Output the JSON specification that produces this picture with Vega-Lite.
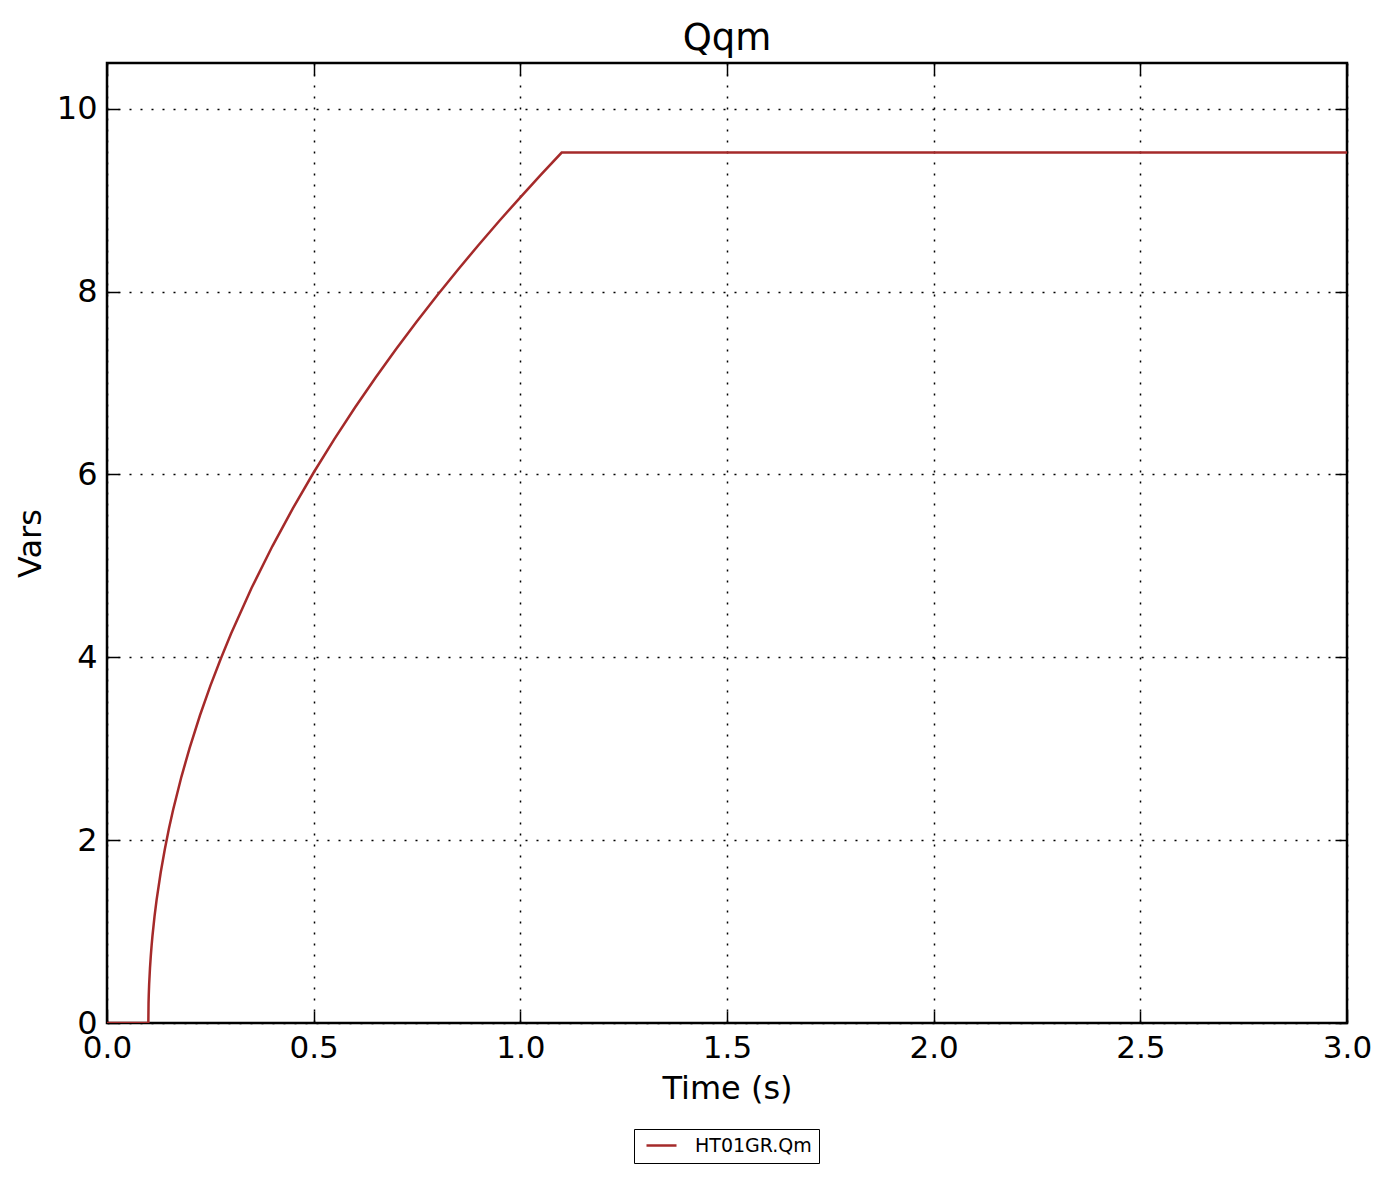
{
  "$schema": "https://vega.github.io/schema/vega-lite/v6.json",
  "width": 1240,
  "height": 960,
  "autosize": {"type": "none"},
  "padding": {"left": 107, "top": 63, "right": 43, "bottom": 159},
  "background": "white",
  "title": {"text": "Qqm", "fontSize": 37, "font": "DejaVu Sans", "fontWeight": "normal", "color": "black", "offset": 4, "anchor": "middle"},
  "config": {
    "font": "DejaVu Sans",
    "view": {"stroke": "black", "strokeWidth": 2.5},
    "axis": {"labelFont": "DejaVu Sans", "titleFont": "DejaVu Sans", "labelColor": "black", "titleColor": "black", "titleFontWeight": "normal"}
  },
  "data": {"values": [
    {"t": 0.0, "q": 0.0, "series": "HT01GR.Qm"},
    {"t": 0.1, "q": 0.0, "series": "HT01GR.Qm"},
    {"t": 0.1005, "q": 0.213, "series": "HT01GR.Qm"},
    {"t": 0.101, "q": 0.301, "series": "HT01GR.Qm"},
    {"t": 0.102, "q": 0.426, "series": "HT01GR.Qm"},
    {"t": 0.104, "q": 0.602, "series": "HT01GR.Qm"},
    {"t": 0.106, "q": 0.737, "series": "HT01GR.Qm"},
    {"t": 0.108, "q": 0.851, "series": "HT01GR.Qm"},
    {"t": 0.11, "q": 0.952, "series": "HT01GR.Qm"},
    {"t": 0.115, "q": 1.166, "series": "HT01GR.Qm"},
    {"t": 0.12, "q": 1.346, "series": "HT01GR.Qm"},
    {"t": 0.13, "q": 1.649, "series": "HT01GR.Qm"},
    {"t": 0.14, "q": 1.904, "series": "HT01GR.Qm"},
    {"t": 0.15, "q": 2.129, "series": "HT01GR.Qm"},
    {"t": 0.16, "q": 2.332, "series": "HT01GR.Qm"},
    {"t": 0.18, "q": 2.693, "series": "HT01GR.Qm"},
    {"t": 0.2, "q": 3.01, "series": "HT01GR.Qm"},
    {"t": 0.225, "q": 3.366, "series": "HT01GR.Qm"},
    {"t": 0.25, "q": 3.687, "series": "HT01GR.Qm"},
    {"t": 0.275, "q": 3.982, "series": "HT01GR.Qm"},
    {"t": 0.3, "q": 4.257, "series": "HT01GR.Qm"},
    {"t": 0.35, "q": 4.76, "series": "HT01GR.Qm"},
    {"t": 0.4, "q": 5.214, "series": "HT01GR.Qm"},
    {"t": 0.45, "q": 5.632, "series": "HT01GR.Qm"},
    {"t": 0.5, "q": 6.021, "series": "HT01GR.Qm"},
    {"t": 0.55, "q": 6.386, "series": "HT01GR.Qm"},
    {"t": 0.6, "q": 6.732, "series": "HT01GR.Qm"},
    {"t": 0.65, "q": 7.06, "series": "HT01GR.Qm"},
    {"t": 0.7, "q": 7.374, "series": "HT01GR.Qm"},
    {"t": 0.75, "q": 7.675, "series": "HT01GR.Qm"},
    {"t": 0.8, "q": 7.965, "series": "HT01GR.Qm"},
    {"t": 0.85, "q": 8.245, "series": "HT01GR.Qm"},
    {"t": 0.9, "q": 8.515, "series": "HT01GR.Qm"},
    {"t": 0.95, "q": 8.777, "series": "HT01GR.Qm"},
    {"t": 1.0, "q": 9.031, "series": "HT01GR.Qm"},
    {"t": 1.05, "q": 9.279, "series": "HT01GR.Qm"},
    {"t": 1.1, "q": 9.52, "series": "HT01GR.Qm"},
    {"t": 3.0, "q": 9.52, "series": "HT01GR.Qm"}
  ]},
  "layer": [
    {
      "mark": {"type": "line", "strokeWidth": 2.5, "clip": true, "interpolate": "linear"},
      "encoding": {
        "x": {"field": "t", "type": "quantitative", "scale": {"domain": [0, 3], "nice": false, "zero": false},
          "axis": {"orient": "bottom", "title": "Time (s)", "values": [0, 0.5, 1, 1.5, 2, 2.5, 3], "format": ".1f",
            "domain": false, "grid": true, "gridColor": "black", "gridWidth": 1.5, "gridDash": [2, 9], "gridOpacity": 1,
            "ticks": true, "tickColor": "black", "tickWidth": 1.5, "tickSize": -12,
            "labelFontSize": 31, "labelPadding": 22, "labelFlush": false, "labelOverlap": false,
            "titleFontSize": 32, "titlePadding": 10}},
        "y": {"field": "q", "type": "quantitative", "scale": {"domain": [0, 10.5], "nice": false, "zero": false},
          "axis": {"orient": "left", "title": "Vars", "values": [0, 2, 4, 6, 8, 10], "format": "d",
            "domain": false, "grid": true, "gridColor": "black", "gridWidth": 1.5, "gridDash": [2, 9], "gridOpacity": 1,
            "ticks": true, "tickColor": "black", "tickWidth": 1.5, "tickSize": -12,
            "labelFontSize": 32, "labelPadding": 22, "labelFlush": false, "labelOverlap": false, "labelBaseline": "middle",
            "titleFontSize": 32, "titlePadding": 9}},
        "color": {"field": "series", "type": "nominal", "scale": {"range": ["#a52a2a"]},
          "legend": {"title": null, "orient": "none", "legendX": 527, "legendY": 1066, "strokeColor": "black", "fillColor": "white",
            "padding": 7, "clipHeight": 19, "symbolOffset": 4, "symbolType": "stroke", "symbolSize": 900, "symbolStrokeWidth": 2.5, "labelFontSize": 19, "labelFont": "DejaVu Sans", "labelColor": "black", "labelOffset": 17}}
      }
    },
    {
      "mark": {"type": "line", "strokeOpacity": 0},
      "encoding": {
        "x": {"field": "t", "type": "quantitative",
          "axis": {"orient": "top", "title": null, "values": [0, 0.5, 1, 1.5, 2, 2.5, 3], "labels": false, "domain": false, "grid": false,
            "ticks": true, "tickColor": "black", "tickWidth": 1.5, "tickSize": -12}},
        "y": {"field": "q", "type": "quantitative",
          "axis": {"orient": "right", "title": null, "values": [0, 2, 4, 6, 8, 10], "labels": false, "domain": false, "grid": false,
            "ticks": true, "tickColor": "black", "tickWidth": 1.5, "tickSize": -12}}
      }
    }
  ],
  "resolve": {"axis": {"x": "independent", "y": "independent"}}
}
